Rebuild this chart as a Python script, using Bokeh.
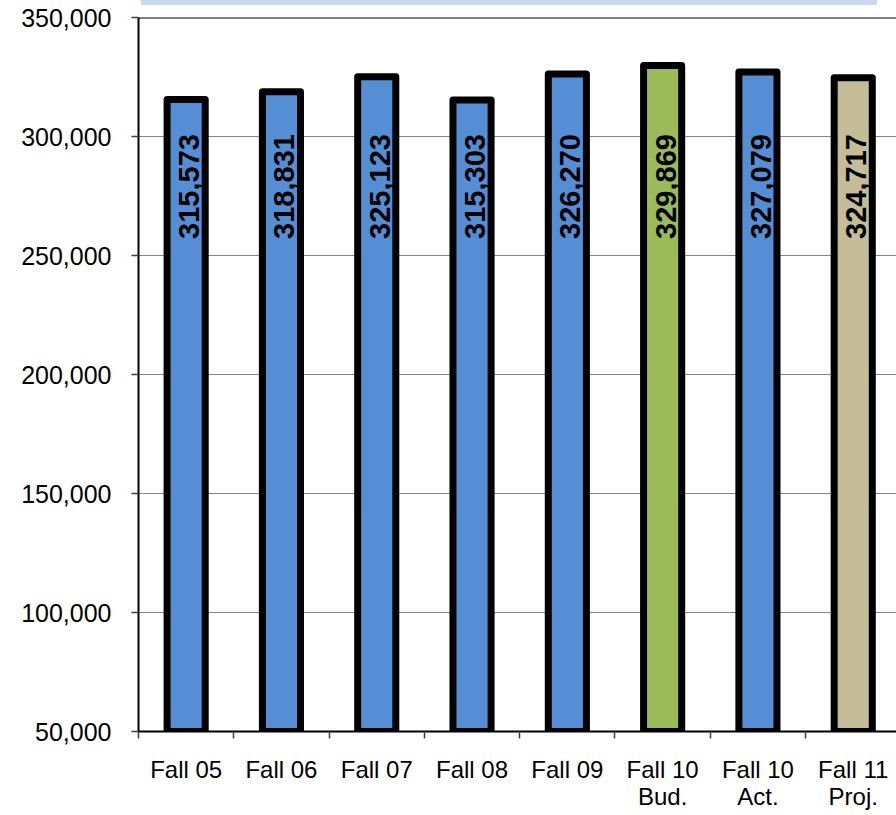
from bokeh.plotting import figure
from bokeh.models import (Range1d, FixedTicker, NumeralTickFormatter, Span, Div,
                          ColumnDataSource)
from bokeh.layouts import column
from bokeh.core.properties import value
from bokeh.embed import file_html
from bokeh.resources import INLINE
import math

# Fall enrollment by term
terms = ["Fall 05", "Fall 06", "Fall 07", "Fall 08", "Fall 09",
         "Fall 10\nBud.", "Fall 10\nAct.", "Fall 11\nProj."]
enrollment = [315573, 318831, 325123, 315303, 326270, 329869, 327079, 324717]
bar_colors = ["#558ED5", "#558ED5", "#558ED5", "#558ED5", "#558ED5",
              "#9BBB59", "#558ED5", "#C4BD97"]
y_ticks = [50000, 100000, 150000, 200000, 250000, 300000, 350000]

FONT = "Liberation Sans"
xs = list(range(len(terms)))

src = ColumnDataSource(dict(
    x=xs,
    top=enrollment,
    color=bar_colors,
    label=[f"{v:,}" for v in enrollment],
    label_y=[279000] * len(enrollment),
))

p = figure(width=896, height=810, output_backend="svg", toolbar_location=None,
           x_range=Range1d(-0.5, 7.454), y_range=Range1d(50000, 350000),
           min_border_left=138, min_border_top=12, min_border_bottom=84,
           min_border_right=0)
p.outline_line_color = None
p.background_fill_color = "white"
p.border_fill_color = "white"

p.vbar(x="x", top="top", bottom=50000, width=0.4, source=src,
       fill_color="color", line_color="black", line_width=7,
       line_join="round")

p.text(x="x", y="label_y", text="label", source=src, angle=math.pi / 2,
       x_offset=3, text_align="center", text_baseline="middle",
       text_font=value(FONT), text_font_style="bold",
       text_font_size="29px", text_color="black")

# top border of the plot area
p.add_layout(Span(location=350000, dimension="width", line_color="black",
                  line_width=2))

# y axis
p.yaxis.ticker = FixedTicker(ticks=y_ticks)
p.yaxis.formatter = NumeralTickFormatter(format="0,0")
p.yaxis.major_label_text_font = FONT
p.yaxis.major_label_text_font_size = "25px"
p.yaxis.major_label_text_color = "black"
p.yaxis.major_label_standoff = 20
p.yaxis.axis_line_color = "black"
p.yaxis.axis_line_width = 2
p.yaxis.major_tick_out = 7
p.yaxis.major_tick_in = 0
p.yaxis.major_tick_line_color = "#404040"
p.yaxis.major_tick_line_width = 1.5
p.yaxis.minor_tick_line_color = None

# x axis: labels at bar centres, tick marks at category boundaries
p.xaxis.ticker = FixedTicker(ticks=xs, minor_ticks=[i - 0.5 for i in range(len(terms) + 1)])
p.xaxis.major_label_overrides = dict(zip(xs, terms))
p.xaxis.major_label_text_font = FONT
p.xaxis.major_label_text_font_size = "24px"
p.xaxis.major_label_text_color = "black"
p.xaxis.major_label_text_line_height = 1.0
p.xaxis.major_label_standoff = 17
p.xaxis.major_tick_line_color = None
p.xaxis.major_tick_out = 0
p.xaxis.major_tick_in = 0
p.xaxis.minor_tick_out = 7
p.xaxis.minor_tick_in = 0
p.xaxis.minor_tick_line_color = "#404040"
p.xaxis.minor_tick_line_width = 1.5
p.xaxis.axis_line_color = "black"
p.xaxis.axis_line_width = 2

p.xgrid.grid_line_color = None
p.ygrid.grid_line_color = "#868686"
p.ygrid.grid_line_width = 1

# strip of the title box above the plot area
band = Div(text="", width=736, height=5, margin=(0, 0, 0, 141),
           styles={"background-color": "#C6D9F1"})

layout = column(band, p, spacing=0)

open("out.html", "w").write(file_html(layout, INLINE))
